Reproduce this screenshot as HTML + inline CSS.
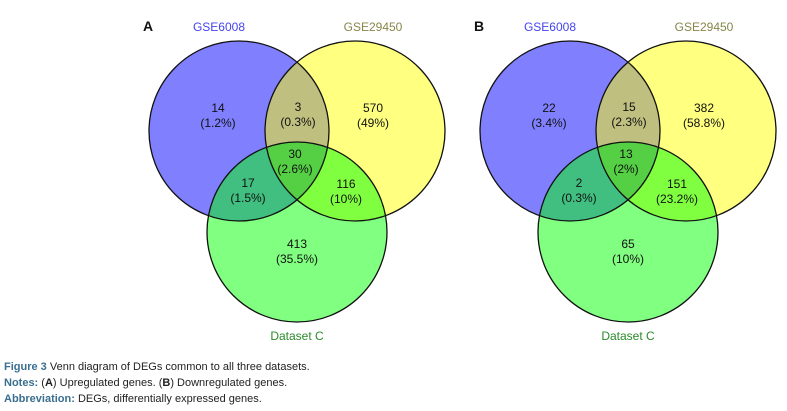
<!DOCTYPE html>
<html><head><meta charset="utf-8"><style>
body{margin:0;background:#fff;width:787px;height:411px;overflow:hidden;font-family:"Liberation Sans",sans-serif}
svg{position:absolute;left:0;top:0}
.cap{position:absolute;left:4px;font-size:11px;color:#222;font-family:"Liberation Sans",sans-serif}
</style></head><body>
<svg width="787" height="360" id="svg"></svg>
<div class="cap" style="top:361px"><b style="color:#3a6f8f">Figure 3</b> Venn diagram of DEGs common to all three datasets.</div>
<div class="cap" style="top:377px"><b style="color:#3a6f8f">Notes:</b> (<b>A</b>) Upregulated genes. (<b>B</b>) Downregulated genes.</div>
<div class="cap" style="top:393px"><b style="color:#3a6f8f">Abbreviation:</b> DEGs, differentially expressed genes.</div>
<script>
const panels=["A","B"];
const countsA=[14,3,570,17,30,116,413];
const pctA=["1.2%","0.3%","49%","1.5%","2.6%","10%","35.5%"];
const countsB=[22,15,382,2,13,151,65];
const pctB=["3.4%","2.3%","58.8%","0.3%","2%","23.2%","10%"];
const setNames=["GSE6008","GSE29450","Dataset C"];
const NS="http://www.w3.org/2000/svg";
const svg=document.getElementById('svg');
function mk(t,a,p){const e=document.createElementNS(NS,t);for(const k in a)e.setAttribute(k,a[k]);(p||svg).appendChild(e);return e;}
const defs=mk('defs',{});
const r=90;
panels.forEach((P,pi)=>{
  const ox=pi*331;
  const C=[[239+ox,131],[355+ox,131],[297+ox,232]];
  C.forEach((c,i)=>{const cp=mk('clipPath',{id:'c'+pi+i},defs);mk('circle',{cx:c[0],cy:c[1],r:r},cp);});
  const g=mk('g',{});
  
  
  const fills=['#8080ff','#ffff80','#80ff80'];
  C.forEach((c,i)=>mk('circle',{cx:c[0],cy:c[1],r:r,fill:fills[i]},g));
  const pair=(a,b,col)=>{const gg=mk('g',{'clip-path':'url(#c'+pi+a+')'},g);mk('circle',{cx:C[b][0],cy:C[b][1],r:r,fill:col},gg);return gg;};
  pair(0,1,'#bfbf80');pair(0,2,'#40bf80');pair(1,2,'#80ff40');
  const g1=mk('g',{'clip-path':'url(#c'+pi+'0)'},g);const g2=mk('g',{'clip-path':'url(#c'+pi+'1)'},g1);
  mk('circle',{cx:C[2][0],cy:C[2][1],r:r,fill:'#55d045'},g2);
  C.forEach(c=>mk('circle',{cx:c[0],cy:c[1],r:r,fill:'none',stroke:'#111','stroke-width':1.3},g));
  const counts=pi?countsB:countsA, pcts=pi?pctB:pctA;
  const pos=[[218,112],[298,111],[373,112],[248,187],[295,158],[346,188],[297,248]];
  pos.forEach((p,i)=>{
    const t=mk('text',{x:p[0]+ox,y:p[1],'text-anchor':'middle','font-size':12,fill:'#111','font-family':'Liberation Sans'},g);
    
    
    t.textContent=counts[i];
    const t2=mk('text',{x:p[0]+ox,y:p[1]+15,'text-anchor':'middle','font-size':12,fill:'#111','font-family':'Liberation Sans'},g);
    t2.textContent='('+pcts[i]+')';
  });
  const lt=mk('text',{x:143+ox,y:31,'font-size':14,'font-weight':'bold',fill:'#111'},g);lt.textContent=P;
  
  
  const ncol=['#4444ee','#86864a','#2a8a2a'];
  const npos=[[219,31],[373,31],[297,340]];
  setNames.forEach((n,i)=>{const t=mk('text',{x:npos[i][0]+ox,y:npos[i][1],'text-anchor':'middle','font-size':12,fill:ncol[i]},g);t.textContent=n;
    
    });
});
</script>
</body></html>
